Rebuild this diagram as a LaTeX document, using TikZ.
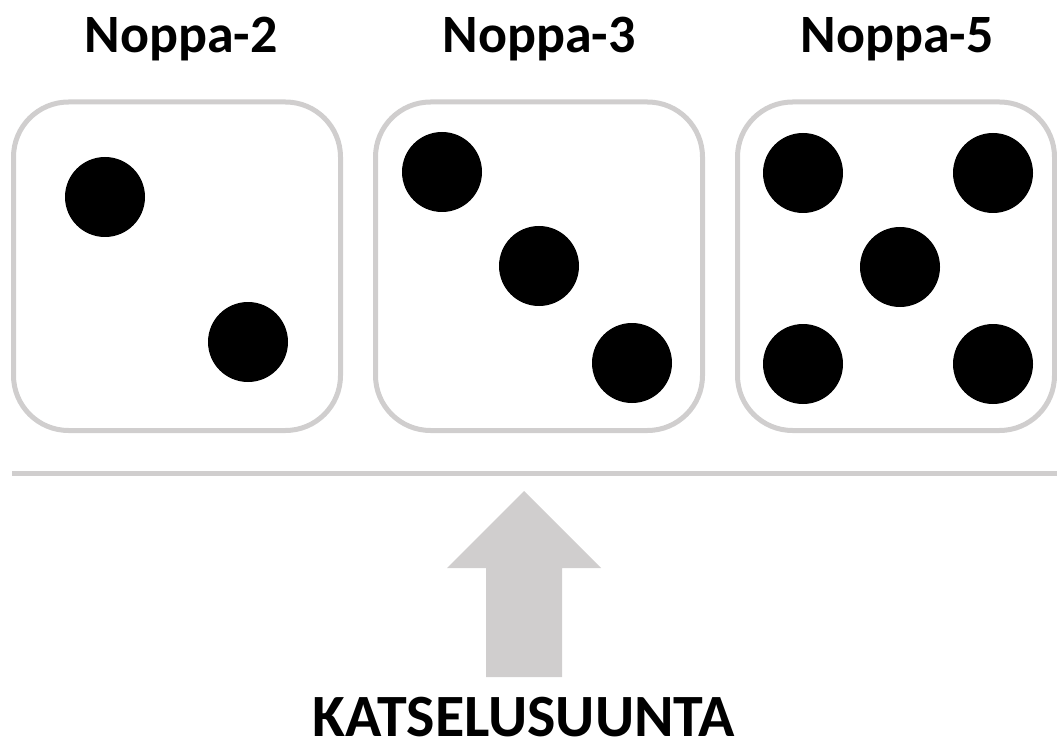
\documentclass[tikz,border=0pt]{standalone}
\usepackage{fontspec}
\setmainfont{Carlito}
\definecolor{dicegray}{RGB}{208,206,206}
\begin{document}
\begin{tikzpicture}[x=1pt,y=-1pt,
  diebox/.style={draw=dicegray,line width=5pt,rounded corners=55pt},
  pip/.style={fill=black},
  title/.style={font=\fontsize{54}{60}\selectfont\bfseries,anchor=base,inner sep=0pt},
  caption/.style={font=\fontsize{60}{66}\selectfont\bfseries,anchor=base,inner sep=0pt}]
\useasboundingbox (0,0) rectangle (1057,743);
% titles
\node[title] (t2) at (181,53) {Noppa-2};
\node[title] (t3) at (539,53) {Noppa-3};
\node[title] (t5) at (897,53) {Noppa-5};
% boxes
\draw[diebox] (13.5,102) rectangle (340.5,430.5);
\draw[diebox] (375.5,102) rectangle (702.5,430.5);
\draw[diebox] (737.5,102) rectangle (1054.5,430.5);
% pips die 2
\fill[pip] (105,197) circle (40);
\fill[pip] (248,342) circle (40);
% pips die 3
\fill[pip] (442,172) circle (40);
\fill[pip] (539,266) circle (40);
\fill[pip] (632,363) circle (40);
% pips die 5
\fill[pip] (803,173) circle (40);
\fill[pip] (993,173) circle (40);
\fill[pip] (900,267) circle (40);
\fill[pip] (803,364) circle (40);
\fill[pip] (993,364) circle (40);
% table line
\draw[dicegray,line width=5pt] (12,473) -- (1057,473);
% arrow
\fill[dicegray] (524,491) -- (601,568) -- (562,568) -- (562,677) -- (486,677) -- (486,568) -- (447,568) -- cycle;
% caption
\node[caption] (cap) at (524,736) {KATSELUSUUNTA};
\end{tikzpicture}
\end{document}
